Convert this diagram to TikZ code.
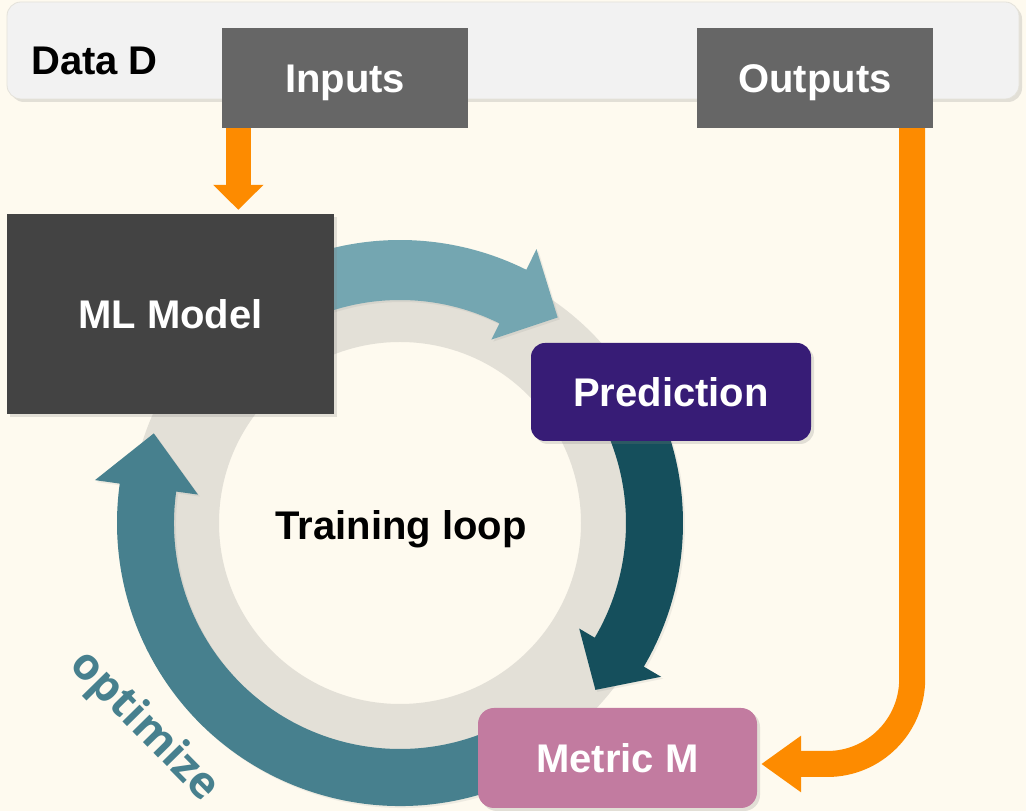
\documentclass[tikz,border=0pt]{standalone}
\usepackage{fontspec}
\setmainfont{Liberation Sans}
\newfontfamily\optfont{Open Sans}
\usetikzlibrary{arrows.meta,shadows}
\definecolor{bgcream}{HTML}{FEFAEF}
\definecolor{barfill}{HTML}{F2F2F2}
\definecolor{barline}{HTML}{E4E2DA}
\definecolor{iobox}{HTML}{666666}
\definecolor{modelbox}{HTML}{434343}
\definecolor{predbox}{HTML}{371C76}
\definecolor{metricbox}{HTML}{C27BA0}
\definecolor{orangeA}{HTML}{FD8B00}
\definecolor{ringgray}{HTML}{E3E0D7}
\definecolor{arrowtop}{HTML}{74A6B1}
\definecolor{arrowright}{HTML}{154F5C}
\definecolor{arrowleft}{HTML}{47808E}
\begin{document}
\begin{tikzpicture}[x=1pt,y=1pt,
  bigtext/.style={font=\fontsize{40}{48}\selectfont\bfseries},
  box/.style={rectangle, inner sep=0pt, text=white, bigtext, text height=28.6pt, text depth=0pt},
  softshadow/.style={drop shadow={opacity=0.22, shadow xshift=3pt, shadow yshift=-3pt}},
  arcshadow/.style={drop shadow={opacity=0.12, shadow xshift=2pt, shadow yshift=-2pt}},
  oarrow/.style={draw=orangeA, line width=26pt},
]
\useasboundingbox (0,0) rectangle (1026,811);
\fill[bgcream] (0,0) rectangle (1026,811);

% data bar
\node[rectangle, rounded corners=14pt, fill=barfill, draw=barline, line width=0.8pt,
      minimum width=1012pt, minimum height=97pt, softshadow] (data) at (513,760.5) {};
\node[anchor=base west, bigtext, text=black, inner sep=0pt] (datalabel) at (31,736) {Data D};

% gray ring
\begin{scope}[shift={(400,288)}]
\fill[ringgray, even odd rule] (0,0) circle[radius=270pt] (0,0) circle[radius=181pt];
% top arrow
\fill[arrowtop, arcshadow] (115:283) arc[start angle=115, end angle=63.5, radius=283pt]
  -- (63.5:306) -- (52.5:259) -- (63.5:205) -- (63.5:223)
  arc[start angle=63.5, end angle=115, radius=223pt] -- cycle;
% right arrow
\fill[arrowright, arcshadow] (30:283) arc[start angle=30, end angle=-30.5, radius=283pt]
  -- (-30.5:303) -- (-40.5:257) -- (-30.5:208) -- (-30.5:226)
  arc[start angle=-30.5, end angle=30, radius=226pt] -- cycle;
% left arrow
\fill[arrowleft, arcshadow] (-62:283) arc[start angle=-62, end angle=-188, radius=283pt]
  -- (-188:308) -- (-200:262) -- (-188:204) -- (-188:226)
  arc[start angle=-188, end angle=-62, radius=226pt] -- cycle;
\end{scope}

\node[anchor=base, bigtext, text=black, inner sep=0pt] (loop) at (401,271) {Training loop};
\node[font=\optfont\fontsize{44}{52}\selectfont\bfseries, text=arrowleft, rotate=-45.5, inner sep=0pt] (opt) at (144,84) {optimize};

% boxes
\node[box, fill=iobox, minimum width=246pt, minimum height=100pt] (inputs) at (345,733) {Inputs};
\node[box, fill=iobox, minimum width=236pt, minimum height=100pt] (outputs) at (815,733) {Outputs};
\node[box, fill=modelbox, minimum width=327pt, minimum height=200pt, softshadow] (model) at (170.5,497) {ML Model};
\node[box, fill=predbox, rounded corners=14pt, minimum width=280pt, minimum height=98pt, softshadow] (pred) at (671,419) {Prediction};
\node[box, fill=metricbox, rounded corners=16pt, minimum width=279pt, minimum height=100pt, softshadow] (metric) at (617.5,53) {Metric M};

% orange connectors
\coordinate (inA) at ([xshift=16.5pt]inputs.south west);
\coordinate (inB) at (inA |- model.north);
\draw[oarrow, line width=25pt, -{Triangle[width=49pt,length=25pt]}] (inA) -- ([yshift=4pt]inB);
\coordinate (outA) at ([xshift=-21pt]outputs.south east);
\draw[oarrow, rounded corners=85pt, -{Triangle[width=54pt,length=40pt]}] (outA) |- ([xshift=4pt,yshift=-6pt]metric.east);
\end{tikzpicture}
\end{document}
